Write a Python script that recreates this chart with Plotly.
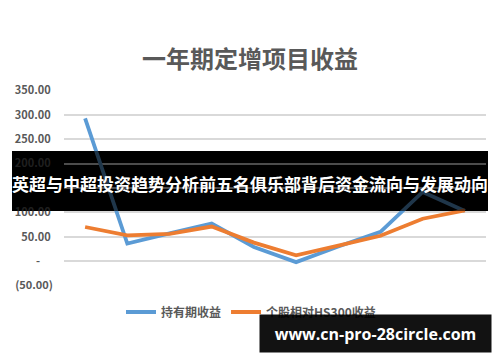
import plotly.graph_objects as go

years = ["2006", "2007", "2008", "2009", "2010", "2011", "2012", "2013", "2014", "2015"]
holding_return = [293, 36, 57, 77, 29, -2, 30, 60, 142, 103]
relative_hs300 = [70, 53, 56, 71, 38, 12, 32, 52, 87, 104]
y_tickvals = [350, 300, 250, 200, 150, 100, 50, 0, -50]
# 150.00 sits fully behind the banner in the reference, so its label is left blank
y_ticktext = ["350.00\u2009", "300.00\u2009", "250.00\u2009", "200.00\u2009", "",
              "100.00\u2009", "50.00\u2009", "-\u2007\u2007", "(50.00)"]
series_names = ["持有期收益", "个股相对HS300收益"]
title_text = "一年期定增项目收益"
banner_text = "英超与中超投资趋势分析前五名俱乐部背后资金流向与发展动向"
url_text = "www.cn-pro-28circle.com"

W, H = 500, 362
L, R, T, B = 64, 14, 90, 76
PW, PH = W - L - R, H - T - B


def xp(px):
    return (px - L) / PW


def yp(py):
    return (H - B - py) / PH


gray = "#595959"
cjk = "Noto Sans CJK SC"

fig = go.Figure()
fig.add_trace(go.Scatter(x=years, y=holding_return, mode="lines", name=series_names[0],
                         line=dict(color="#5B9BD5", width=3.8)))
fig.add_trace(go.Scatter(x=years, y=relative_hs300, mode="lines", name=series_names[1],
                         line=dict(color="#ED7D31", width=3.8)))

annotations = []
for yr in years:
    annotations.append(dict(x=yr, y=0, xref="x", yref="y", text=yr, showarrow=False,
                            yanchor="middle", yshift=-15,
                            font=dict(family=cjk, size=11, color=gray, weight="bold")))

annotations.append(dict(x=xp(250), y=yp(183), xref="paper", yref="paper", text=banner_text,
                        showarrow=False, xanchor="center", yanchor="middle",
                        font=dict(family=cjk, size=17, color="white", weight="bold")))

annotations.append(dict(x=xp(375.5), y=yp(333.5), xref="paper", yref="paper", text=url_text,
                        showarrow=False, xanchor="center", yanchor="middle",
                        width=231, height=37, borderpad=0, bgcolor="rgba(0,0,0,0.93)",
                        font=dict(family="Open Sans", size=16, color="white", weight="bold")))

shapes = [
    dict(type="rect", xref="paper", yref="paper", x0=xp(12), x1=xp(488), y0=yp(211), y1=yp(151),
         fillcolor="black", line=dict(width=0), layer="below"),
    dict(type="rect", xref="paper", yref="paper", x0=xp(12), x1=xp(488), y0=yp(211), y1=yp(151),
         fillcolor="black", opacity=0.65, line=dict(width=0), layer="above"),
]

fig.update_layout(
    width=W, height=H,
    margin=dict(l=L, r=R, t=T, b=B),
    paper_bgcolor="white", plot_bgcolor="white",
    title=dict(text=title_text, x=0.5, xanchor="center", y=1 - 60 / H, yanchor="middle",
               font=dict(family=cjk, size=24, color=gray, weight="bold")),
    xaxis=dict(type="category", range=[-0.5, 9.5], showticklabels=False, showgrid=False,
               zeroline=False, showline=False, fixedrange=True),
    yaxis=dict(range=[-51, 351], tickvals=y_tickvals, ticktext=y_ticktext, showgrid=True,
               gridcolor="#D9D9D9", gridwidth=2, zeroline=False, showline=False,
               ticklabelstandoff=10,
               tickfont=dict(family=cjk, size=11, color=gray, weight="bold")),
    showlegend=True,
    legend=dict(orientation="h", x=xp(251), xanchor="center", y=yp(312), yanchor="middle",
                font=dict(family=cjk, size=12, color=gray, weight="bold"),
                bgcolor="rgba(0,0,0,0)", itemwidth=30),
    annotations=annotations,
    shapes=shapes,
)

fig.write_html("out.html")
